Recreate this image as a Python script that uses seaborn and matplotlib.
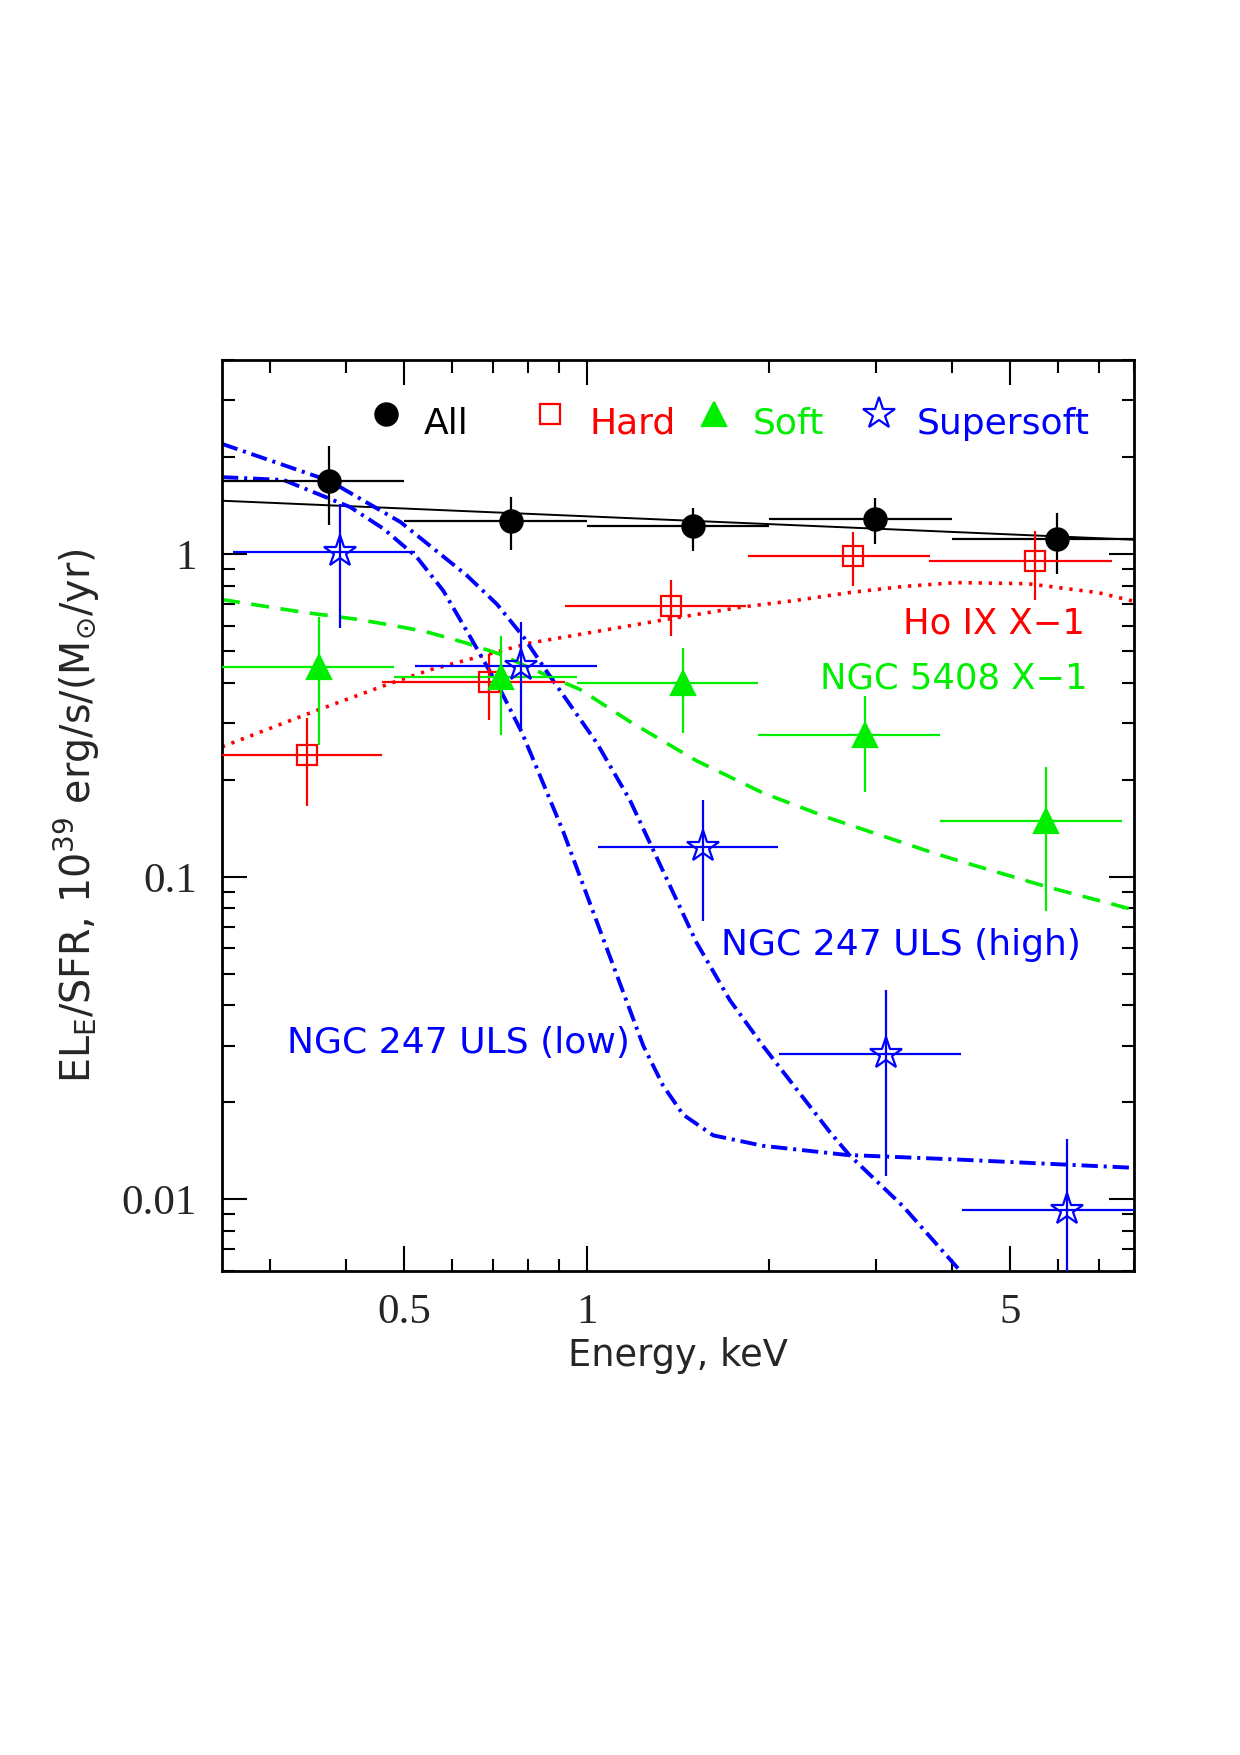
import numpy as np
import matplotlib as mpl
mpl.use('Agg')
import matplotlib.pyplot as plt
import seaborn as sns
from matplotlib.ticker import FixedLocator, FixedFormatter, LogLocator, NullFormatter

# --- data (energy in keV, EL_E/SFR) ---
# All sources (filled black circles)
all_x = [0.376, 0.751, 1.50, 2.99, 5.98]
all_y = [1.69, 1.265, 1.22, 1.286, 1.113]
all_xlo = [0.25, 0.50, 1.0, 2.0, 4.0]
all_xhi = [0.50, 1.0, 2.0, 4.0, 8.0]
all_ylo = [1.23, 1.03, 1.024, 1.079, 0.871]
all_yhi = [2.16, 1.51, 1.395, 1.498, 1.346]

# Hard (open red squares)
hard_x = [0.3456, 0.690, 1.379, 2.753, 5.50]
hard_y = [0.238, 0.401, 0.692, 0.986, 0.956]
hard_xlo = [0.25, 0.46, 0.921, 1.842, 3.67]
hard_xhi = [0.46, 0.919, 1.83, 3.68, 7.35]
hard_ylo = [0.166, 0.306, 0.557, 0.796, 0.724]
hard_yhi = [0.310, 0.490, 0.835, 1.172, 1.18]

# Soft (filled green triangles)
soft_x = [0.361, 0.722, 1.439, 2.874, 5.73]
soft_y = [0.448, 0.417, 0.398, 0.275, 0.149]
soft_xlo = [0.25, 0.48, 0.963, 1.917, 3.835]
soft_xhi = [0.48, 0.963, 1.917, 3.835, 7.65]
soft_ylo = [0.256, 0.275, 0.279, 0.183, 0.0783]
soft_yhi = [0.640, 0.558, 0.511, 0.364, 0.219]

# Supersoft (open blue stars)
super_x = [0.391, 0.779, 1.558, 3.117, 6.20]
super_y = [1.016, 0.451, 0.1236, 0.0283, 0.00927]
super_xlo = [0.2607, 0.5216, 1.042, 2.077, 4.16]
super_xhi = [0.52, 1.041, 2.07, 4.15, 8.0]
super_ylo = [0.589, 0.285, 0.0728, 0.01186, 0.004]
super_yhi = [1.435, 0.617, 0.1737, 0.0447, 0.01534]

# Template spectra
fit_x = [0.25, 8.0]
fit_y = [1.466, 1.11]

hoix_x = [0.25, 0.355, 0.474, 0.553, 0.806, 1.337, 1.81, 2.218, 2.713, 3.33, 4.07,
          5.34, 7.0, 8.0]
hoix_y = [0.253, 0.326, 0.398, 0.439, 0.531, 0.626, 0.687, 0.72, 0.761, 0.795, 0.817,
          0.811, 0.76, 0.715]

n5408_x = [0.25, 0.337, 0.42, 0.483, 0.542, 0.63, 0.72, 0.806, 0.975, 1.178, 1.518,
           1.954, 2.517, 3.68, 4.07, 5.73, 8.0]
n5408_y = [0.724, 0.663, 0.628, 0.60, 0.576, 0.532, 0.49, 0.444, 0.381, 0.303, 0.229,
           0.182, 0.152, 0.1197, 0.1128, 0.0933, 0.079]

uls_high_x = [0.25, 0.376, 0.4927, 0.634, 0.711, 0.786, 0.859, 0.927, 1.039, 1.178,
              1.337, 1.518, 1.722, 1.954, 2.218, 2.517, 2.715, 3.33, 4.2]
uls_high_y = [2.20, 1.69, 1.259, 0.86, 0.700, 0.555, 0.433, 0.353, 0.260, 0.173,
              0.104, 0.0625, 0.0415, 0.0299, 0.022, 0.0162, 0.0137, 0.0095, 0.0058]

uls_low_x = [0.25, 0.316, 0.407, 0.462, 0.524, 0.58, 0.642, 0.72, 0.781, 0.838, 0.915,
             0.987, 1.065, 1.149, 1.240, 1.337, 1.443, 1.617, 1.954, 2.68, 4.07, 8.0]
uls_low_y = [1.735, 1.70, 1.401, 1.20, 0.981, 0.77, 0.555, 0.38, 0.281, 0.205, 0.1377,
             0.094, 0.0641, 0.0438, 0.0299, 0.0225, 0.0183, 0.0158, 0.01466, 0.01374,
             0.0133, 0.01253]

legend_labels = ['All', 'Hard', 'Soft', 'Supersoft']
curve_labels = ['Ho IX X\u22121', 'NGC 5408 X\u22121', 'NGC 247 ULS (high)', 'NGC 247 ULS (low)']

x_major = [0.5, 1, 5]
x_major_labels = ['0.5', '1', '5']
x_minor = [0.3, 0.4, 0.6, 0.7, 0.8, 0.9, 2, 3, 4, 6, 7, 8]
y_major = [0.01, 0.1, 1]
y_major_labels = ['0.01', '0.1', '1']

RED, GREEN, BLUE = '#ff0000', '#00ee00', '#0000ff'

# --- style ---
sns.set_style('ticks')
plt.rcParams['font.family'] = ['DejaVu Sans']
plt.rcParams['mathtext.fontset'] = 'dejavusans'
plt.rcParams['mathtext.default'] = 'regular'

fig = plt.figure(figsize=(12.4, 17.55), dpi=100)
ax = fig.add_axes([0.179, 0.2758, 0.7355, 0.519])
ax.set_xscale('log')
ax.set_yscale('log')
ax.set_xlim(0.25, 8)
ax.set_ylim(0.006, 4)

# --- model curves ---
sns.lineplot(x=fit_x, y=fit_y, color='black', linewidth=1.4, ax=ax, zorder=2)
sns.lineplot(x=hoix_x, y=hoix_y, color=RED, linewidth=2.6, ax=ax, zorder=2,
             linestyle=(0, (0.9, 1.9)))
sns.lineplot(x=n5408_x, y=n5408_y, color=GREEN, linewidth=2.6, ax=ax, zorder=2,
             linestyle=(0, (5, 3.2)))
for cx, cy in [(uls_high_x, uls_high_y), (uls_low_x, uls_low_y)]:
    sns.lineplot(x=cx, y=cy, color=BLUE, linewidth=2.8, ax=ax, zorder=2,
                 linestyle=(0, (4.2, 1.5, 0.8, 1.5)))

# --- data points with error bars ---
def errs(x, y, xlo, xhi, ylo, yhi):
    x, y = np.array(x), np.array(y)
    xe = [x - np.array(xlo), np.array(xhi) - x]
    ye = [y - np.array(ylo), np.array(yhi) - y]
    return xe, ye

series = [
    (all_x, all_y, all_xlo, all_xhi, all_ylo, all_yhi, 'o', 'black', 'black', 16),
    (hard_x, hard_y, hard_xlo, hard_xhi, hard_ylo, hard_yhi, 's', RED, 'none', 15),
    (soft_x, soft_y, soft_xlo, soft_xhi, soft_ylo, soft_yhi, '^', GREEN, GREEN, 17),
    (super_x, super_y, super_xlo, super_xhi, super_ylo, super_yhi, '*', BLUE, 'none', 24),
]
for x, y, xlo, xhi, ylo, yhi, mk, col, fc, ms in series:
    xe, ye = errs(x, y, xlo, xhi, ylo, yhi)
    ax.errorbar(x, y, xerr=xe, yerr=ye, fmt=mk, ms=ms, mfc=fc, mec=col, mew=1.6,
                ecolor=col, elinewidth=1.6, capsize=0, zorder=3)

# --- legend row at top ---
leg_pos = [(0.180, 0.2207), (0.3596, 0.4035), (0.540, 0.582), (0.720, 0.7622)]
leg_style = [('o', 'black', 'black', 16), ('s', RED, 'none', 15),
             ('^', GREEN, GREEN, 17), ('*', BLUE, 'none', 24)]
for (mx, tx), (mk, col, fc, ms), lab in zip(leg_pos, leg_style, legend_labels):
    ax.plot([mx], [0.941], marker=mk, ms=ms, mfc=fc, mec=col, mew=1.6, ls='none',
            transform=ax.transAxes, clip_on=False)
    ax.text(tx, 0.919, lab, color=col, fontsize=26, ha='left', va='baseline',
            transform=ax.transAxes)

# --- curve labels ---
ax.text(0.946, 0.700, curve_labels[0], color=RED, fontsize=25.5, ha='right', va='baseline',
        transform=ax.transAxes)
ax.text(0.949, 0.640, curve_labels[1], color=GREEN, fontsize=25.5, ha='right', va='baseline',
        transform=ax.transAxes)
ax.text(0.5476, 0.347, curve_labels[2], color=BLUE, fontsize=26, ha='left', va='baseline',
        transform=ax.transAxes)
ax.text(0.0716, 0.239, curve_labels[3], color=BLUE, fontsize=26, ha='left', va='baseline',
        transform=ax.transAxes)

# --- axes, ticks ---
ax.xaxis.set_major_locator(FixedLocator(x_major))
ax.xaxis.set_major_formatter(FixedFormatter(x_major_labels))
ax.xaxis.set_minor_locator(FixedLocator(x_minor))
ax.xaxis.set_minor_formatter(NullFormatter())
ax.yaxis.set_major_locator(FixedLocator(y_major))
ax.yaxis.set_major_formatter(FixedFormatter(y_major_labels))
ax.yaxis.set_minor_locator(LogLocator(base=10, subs=np.arange(2, 10)))
ax.yaxis.set_minor_formatter(NullFormatter())

ax.tick_params(which='both', direction='in', top=True, right=True, width=1.5,
               color='black')
ax.tick_params(which='major', length=18, labelsize=31, labelfontfamily='Liberation Serif')
ax.tick_params(axis='x', which='major', pad=16)
ax.tick_params(axis='y', which='major', pad=18)
ax.tick_params(which='minor', length=9)
for sp in ax.spines.values():
    sp.set_linewidth(2.0)
    sp.set_color('black')

ax.set_xlabel('Energy, keV', fontsize=26.5)
ax.xaxis.set_label_coords(0.5, -0.072)
ax.set_ylabel(r'EL$_E$/SFR, 10$^{39}$ erg/s/(M$_{\odot}$/yr)', fontsize=28.5)
ax.yaxis.set_label_coords(-0.132, 0.5)

fig.savefig('out.png', dpi=100, facecolor='white')
